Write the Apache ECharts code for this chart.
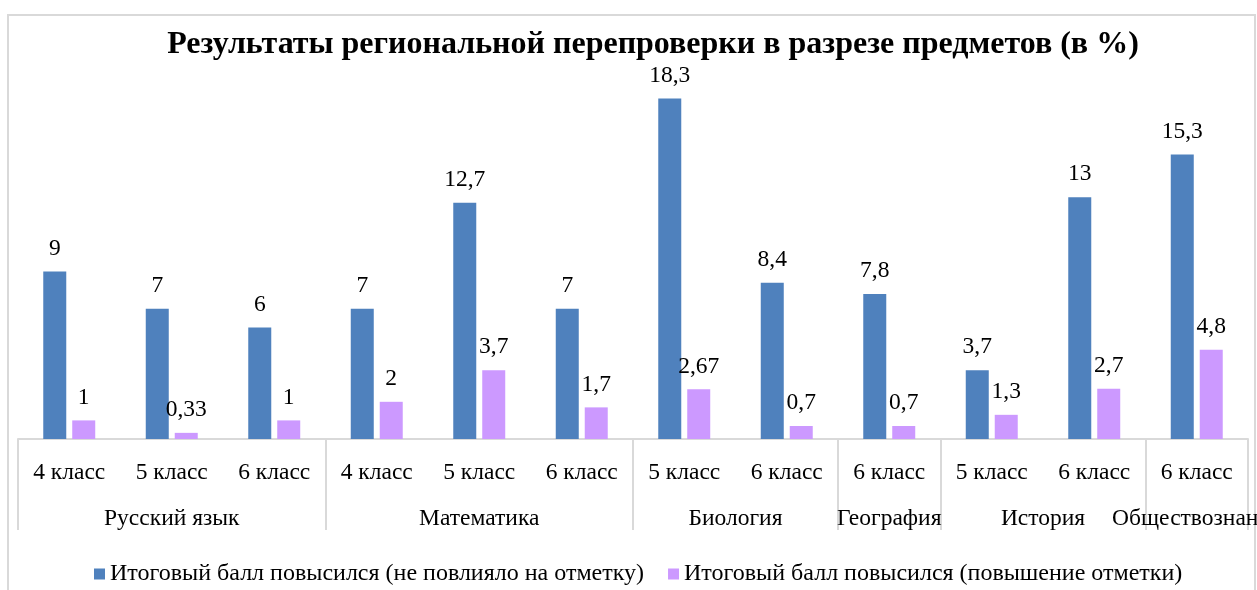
<!DOCTYPE html>
<html>
<head>
<meta charset="utf-8">
<script src="https://cdn.jsdelivr.net/npm/echarts@6/dist/echarts.min.js"></script>
<style>
  html, body { margin: 0; padding: 0; background: #fff; }
  #chart { width: 1257px; height: 590px; }
</style>
</head>
<body>
<div id="chart"></div>
<script>
// categories (classes) and their subject groups
const classes = ['4 класс', '5 класс', '6 класс', '4 класс', '5 класс', '6 класс',
  '5 класс', '6 класс', '6 класс', '5 класс', '6 класс', '6 класс'];
const subjects = ['Русский язык', 'Математика', 'Биология', 'География', 'История', 'Обществознание'];
const subjectSpan = [3, 3, 2, 1, 2, 1];

// series values, %
const notAffected = [9, 7, 6, 7, 12.7, 7, 18.3, 8.4, 7.8, 3.7, 13, 15.3];
const raised = [1, 0.33, 1, 2, 3.7, 1.7, 2.67, 0.7, 0.7, 1.3, 2.7, 4.8];

const seriesNames = [
  'Итоговый балл повысился (не повлияло на отметку)',
  'Итоговый балл повысился (повышение отметки)'
];

// group boundaries and centres on a 0..12 scale
const bounds = [0];
const centers = [];
subjectSpan.forEach(function (n) {
  const start = bounds[bounds.length - 1];
  centers.push(start + n / 2);
  bounds.push(start + n);
});

const FONT = '"Liberation Serif", "Times New Roman", serif';
const GRAY = '#d9d9d9';
const LABEL_SIZE = 23.5;

const chart = echarts.init(document.getElementById('chart'), null, { renderer: 'canvas' });

function labelFmt(p) {
  return String(p.value).replace('.', ',');
}

var option = {
  backgroundColor: '#fff',
  textStyle: { fontFamily: FONT },
  animation: false,
  title: {
    text: 'Результаты региональной перепроверки в разрезе предметов (в %)',
    left: 648,
    textAlign: 'center',
    top: 24,
    textStyle: { fontFamily: FONT, fontSize: 32, fontWeight: 'bold', color: '#000' }
  },
  graphic: [{
    type: 'rect',
    shape: { x: 8, y: 15, width: 1247, height: 640 },
    style: { fill: 'none', stroke: GRAY, lineWidth: 2 },
    silent: true,
    z: -1
  }],
  legend: {
    data: seriesNames,
    left: 89,
    top: 557,
    icon: 'rect',
    itemWidth: 11,
    itemHeight: 11,
    itemGap: 24,
    textStyle: { fontFamily: FONT, fontSize: 24, color: '#000' }
  },
  grid: { left: 18, right: 9, top: 67, bottom: 151, outerBoundsMode: 'none' },
  xAxis: [{
    type: 'category',
    data: classes,
    axisLine: { lineStyle: { color: GRAY, width: 2 } },
    axisTick: { show: false },
    axisLabel: { fontFamily: FONT, fontSize: LABEL_SIZE, color: '#000', margin: 22, interval: 0 }
  }, {
    type: 'value',
    min: 0,
    max: 12,
    position: 'bottom',
    axisLine: { show: false },
    splitLine: { show: false },
    axisTick: {
      show: true,
      customValues: bounds,
      length: 91,
      lineStyle: { color: GRAY, width: 2 }
    },
    axisLabel: {
      customValues: centers,
      fontFamily: FONT,
      fontSize: LABEL_SIZE,
      color: '#000',
      margin: 68,
      formatter: function (v) {
        const i = centers.indexOf(v);
        return i >= 0 ? subjects[i] : '';
      }
    }
  }],
  yAxis: {
    type: 'value',
    min: 0,
    max: 20,
    show: false
  },
  series: [{
    name: seriesNames[0],
    type: 'bar',
    data: notAffected,
    barWidth: 23,
    barGap: '26%',
    itemStyle: { color: '#4f81bd' },
    label: {
      show: true, position: 'top', distance: 11,
      fontFamily: FONT, fontSize: LABEL_SIZE, color: '#000',
      formatter: labelFmt
    }
  }, {
    name: seriesNames[1],
    type: 'bar',
    data: raised,
    barWidth: 23,
    itemStyle: { color: '#cc99ff' },
    label: {
      show: true, position: 'top', distance: 11,
      fontFamily: FONT, fontSize: LABEL_SIZE, color: '#000',
      formatter: labelFmt
    }
  }]
};

chart.setOption(option);
</script>
</body>
</html>
